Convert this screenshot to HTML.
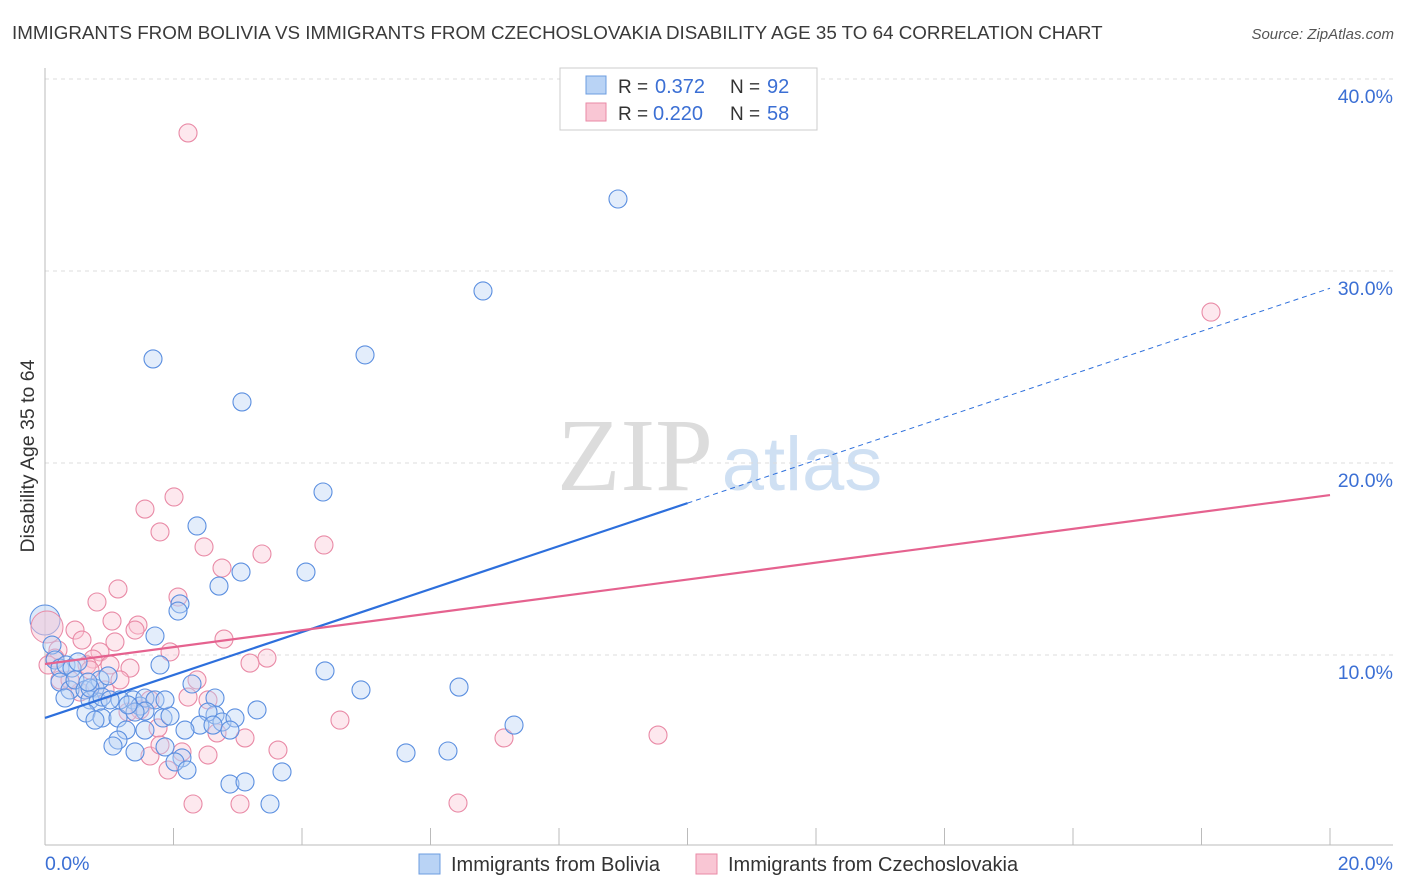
<!DOCTYPE html>
<html><head><meta charset="utf-8"><style>
body{margin:0;background:#fff;font-family:"Liberation Sans",sans-serif}
svg{display:block}
</style></head><body>
<svg id="c" width="1406" height="892" xmlns="http://www.w3.org/2000/svg">
<text x="12" y="39" font-size="18.8" fill="#3a3a3a">IMMIGRANTS FROM BOLIVIA VS IMMIGRANTS FROM CZECHOSLOVAKIA DISABILITY AGE 35 TO 64 CORRELATION CHART</text>
<text x="1394" y="39" font-size="15" fill="#555" font-style="italic" text-anchor="end">Source: ZipAtlas.com</text>
<text x="635" y="490" font-size="104" fill="#dcdcdc" text-anchor="middle" font-family="Liberation Serif,serif">ZIP</text>
<text x="802" y="490" font-size="76" fill="#cfe0f3" text-anchor="middle">atlas</text>
<g id="grid"></g><g id="axes"></g><g id="pts"></g><g id="lines"></g>
<text transform="translate(34,456) rotate(-90)" font-size="19.5" fill="#333" text-anchor="middle">Disability Age 35 to 64</text>
<g>
<rect x="560" y="68" width="257" height="62" fill="#fff" stroke="#ccc"/>
<rect x="586" y="76" width="20" height="18" fill="#b9d3f5" stroke="#6c9de0"/>
<rect x="586" y="103" width="20" height="18" fill="#f9c6d4" stroke="#e98aa6"/>
<text x="618" y="93" font-size="19" fill="#333">R =</text>
<text x="655" y="93" font-size="20" fill="#3b6fd4">0.372</text>
<text x="730" y="93" font-size="19" fill="#333">N =</text>
<text x="767" y="93" font-size="20" fill="#3b6fd4">92</text>
<text x="618" y="120" font-size="19" fill="#333">R =</text>
<text x="653" y="120" font-size="20" fill="#3b6fd4">0.220</text>
<text x="730" y="120" font-size="19" fill="#333">N =</text>
<text x="767" y="120" font-size="20" fill="#3b6fd4">58</text>
</g>
<g>
<rect x="419" y="854" width="21" height="20" fill="#b9d3f5" stroke="#6c9de0"/>
<text x="451" y="871" font-size="20" fill="#333">Immigrants from Bolivia</text>
<rect x="696" y="854" width="21" height="20" fill="#f9c6d4" stroke="#e98aa6"/>
<text x="728" y="871" font-size="20" fill="#333">Immigrants from Czechoslovakia</text>
</g>
</svg>
<script>
const NS="http://www.w3.org/2000/svg";
const yTicks=[10,20,30,40];
const yTickLabels=["10.0%","20.0%","30.0%","40.0%"];
const xTickLabels=["0.0%","20.0%"];
const blueTrend=[6.72,29.1];
const pinkTrend=[9.53,18.33];
const bluePx=[[618,199],[483,291],[153,359],[365,355],[242,402],[323,492],[197,526],[306,572],[241,572],[219,586],[180,604],[178,611],[155,636],[160,665],[325,671],[361,690],[459,687],[514,725],[406,753],[448,751],[52,645],[55,660],[60,668],[66,665],[72,668],[78,662],[60,682],[70,690],[75,680],[85,690],[95,688],[100,680],[108,676],[90,700],[98,702],[86,713],[102,718],[118,718],[126,730],[133,700],[140,706],[145,698],[155,700],[145,711],[135,712],[163,718],[170,716],[192,684],[215,698],[215,715],[208,712],[222,722],[235,718],[257,710],[200,725],[213,725],[230,730],[118,740],[145,730],[165,747],[185,730],[182,758],[135,752],[175,762],[187,770],[230,784],[245,782],[282,772],[270,804],[95,720],[113,746],[90,688],[165,700],[65,698],[88,682],[120,700],[128,705],[102,697],[110,700]];
const pinkPx=[[188,133],[1211,312],[145,509],[174,497],[160,532],[204,547],[262,554],[324,545],[222,568],[178,597],[118,589],[97,602],[138,625],[112,621],[135,630],[75,630],[82,640],[115,642],[58,650],[100,652],[93,659],[87,665],[55,658],[48,665],[110,665],[130,668],[170,652],[224,639],[250,663],[267,658],[188,697],[197,680],[208,700],[150,700],[140,710],[128,712],[340,720],[504,738],[658,735],[245,738],[217,733],[158,728],[150,756],[168,770],[182,752],[208,755],[278,750],[193,804],[240,804],[458,803],[80,692],[60,680],[70,680],[90,670],[105,690],[120,680],[160,745]];
const blueX=bluePx.map(p=>+((p[0]-45)/64.25).toFixed(3)), blueY=bluePx.map(p=>+((847-p[1])/19.2).toFixed(2));
const pinkX=pinkPx.map(p=>+((p[0]-45)/64.25).toFixed(3)), pinkY=pinkPx.map(p=>+((847-p[1])/19.2).toFixed(2));
const X=v=>45+v*64.25, Y=v=>847-v*19.2;
function mk(t,a,p){const e=document.createElementNS(NS,t);for(const k in a)e.setAttribute(k,a[k]);document.getElementById(p).appendChild(e);return e;}
yTicks.forEach((t,i)=>{
 const g=mk("line",{x1:45,x2:1393,y1:Y(t),y2:Y(t),stroke:"#ddd","stroke-dasharray":"4,4"},"grid");
 
 
 const l=mk("text",{x:1393,y:Y(t)+24,"font-size":19.5,fill:"#3b6fd4","text-anchor":"end"},"axes");l.textContent=yTickLabels[i];
 
 
});
mk("line",{x1:45,x2:45,y1:68,y2:845,stroke:"#bbb"},"axes");
mk("line",{x1:45,x2:1393,y1:845,y2:845,stroke:"#bbb"},"axes");
for(let i=0;i<=10;i++){const t=mk("line",{x1:X(i*2),x2:X(i*2),y1:828,y2:845,stroke:"#bbb"},"axes");
 
 }
let a=mk("text",{x:45,y:870,"font-size":19.5,fill:"#3b6fd4"},"axes");a.textContent=xTickLabels[0];


a=mk("text",{x:1393,y:870,"font-size":19.5,fill:"#3b6fd4","text-anchor":"end"},"axes");a.textContent=xTickLabels[1];


function pts(xs,ys,f,s,name){xs.forEach((x,i)=>{const c=mk("circle",{cx:X(x),cy:Y(ys[i]),r:9,fill:f,"fill-opacity":0.4,stroke:s,"stroke-width":1.1},"pts");
 
 });}
const b1=mk("circle",{cx:45,cy:620,r:15,fill:"#b9d3f5","fill-opacity":0.5,stroke:"#5b8fe0"},"pts");


const p1=mk("circle",{cx:47,cy:627,r:16,fill:"#f9c6d4","fill-opacity":0.5,stroke:"#e98aa6"},"pts");


pts(pinkX,pinkY,"#f9c6d4","#e98aa6","czech-point");
pts(blueX,blueY,"#b9d3f5","#5b8fe0","bolivia-point");
const bx=10;const by=blueTrend[0]+(blueTrend[1]-blueTrend[0])*bx/20;
let L=mk("line",{x1:X(0),y1:Y(blueTrend[0]),x2:X(bx),y2:Y(by),stroke:"#2d6fdc","stroke-width":2.2},"lines");


L=mk("line",{x1:X(bx),y1:Y(by),x2:X(20),y2:Y(blueTrend[1]),stroke:"#2d6fdc","stroke-width":1,"stroke-dasharray":"5,4"},"lines");


L=mk("line",{x1:X(0),y1:Y(pinkTrend[0]),x2:X(20),y2:Y(pinkTrend[1]),stroke:"#e5628f","stroke-width":2.2},"lines");


</script>
</body></html>
